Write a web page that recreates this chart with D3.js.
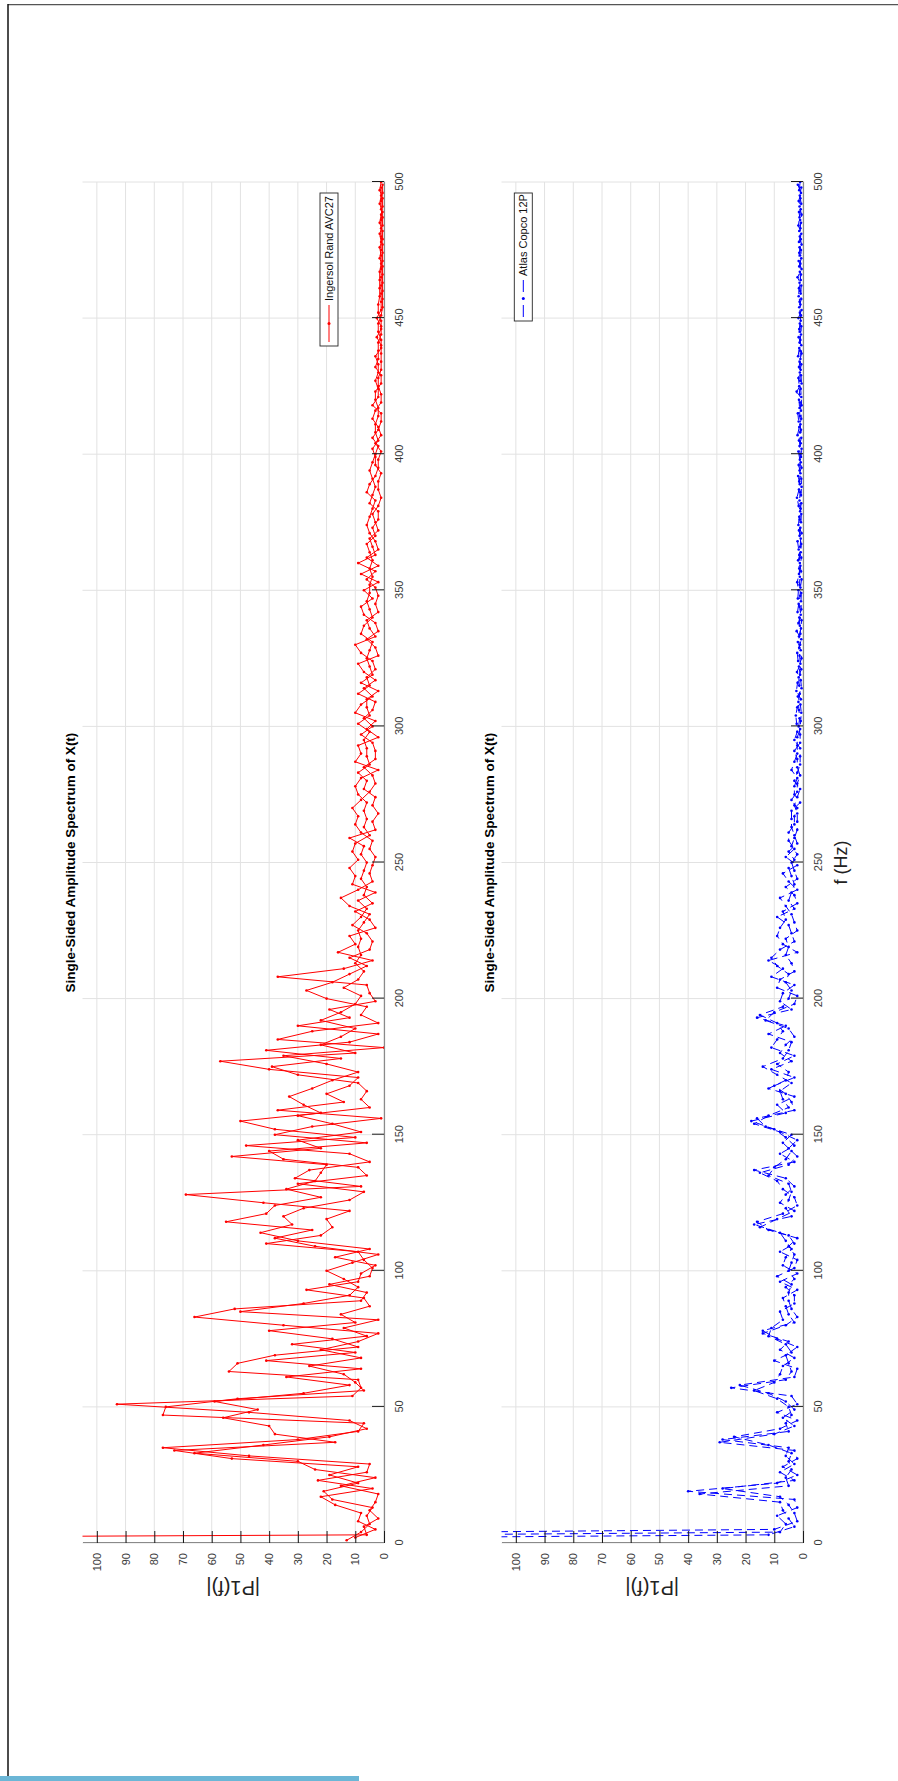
<!DOCTYPE html>
<html>
<head>
<meta charset="utf-8">
<script src="https://cdn.jsdelivr.net/npm/d3@7"></script>
<style>
  body { margin: 0; background: #fff; }
  svg { display: block; font-family: "Liberation Sans", Arial, Helvetica, sans-serif; }
</style>
</head>
<body>
<svg width="898" height="1781"></svg>
<script>
// Single-sided amplitude spectra, one value per 1 Hz bin (0..500 Hz)
const freqTicks = [0, 50, 100, 150, 200, 250, 300, 350, 400, 450, 500];
const ampTicks = [0, 10, 20, 30, 40, 50, 60, 70, 80, 90, 100];

const red000 = [600,13,10,6,8,3,7,5,9,2, 6,8,5,4,17,3,18,22,2,21, 4,15,9,23,3,19,6,24,9,5,
  30,53,47,66,73,77,42,17,30,19, 38,9,6,40,7,12,56,77,47,44, 76,93,59,51,11,28,7,8,12,10,
  9,34,14,54,8,26,51,41,8,38, 10,22,9,32,9,18,6,2,40,14, 35,10,2,66,15,50,52,5,28,8,
  7,12,6,27,9,19,9,14,5,8];
const red100 = [20,4,3,11,7,17,2,9,5,24, 41,30,38,22,43,25,18,32,55,20, 35,41,12,28,38,42,12,22,69,7,
  34,8,30,24,31,6,22,26,9,20, 5,35,53,12,40,22,48,6,30,10, 38,8,38,25,18,50,1,30,22,37,
  5,28,14,8,33,20,6,25,12,9, 18,9,30,9,40,39,20,57,15,35, 10,41,0,22,12,37,15,2,25,10,
  30,2,22,12,8,15,19,6,10,3];
const red200 = [20,8,5,27,14,6,18,9,37,12, 7,14,6,10,4,12,8,16,5,9, 10,4,8,12,6,9,3,11,7,5,
  8,5,10,6,12,4,9,15,7,3, 9,6,11,4,8,10,5,7,12,4, 6,9,3,8,11,5,7,10,4,12,
  5,8,3,7,10,4,6,9,2,7, 11,4,6,8,3,9,5,7,10,3, 6,8,4,9,2,7,5,10,3,6,
  8,3,6,9,4,7,2,8,5,6];
const red300 = [4,9,3,7,5,10,4,6,8,3, 6,4,9,2,7,5,8,3,6,4, 7,3,5,9,4,6,2,8,5,3,
  10,4,6,3,8,2,5,7,3,6, 4,7,2,5,8,3,6,4,2,5, 7,3,5,2,6,4,8,3,5,2,
  9,4,6,3,5,2,4,6,3,5, 3,5,2,4,6,3,2,5,4,2, 4,2,5,3,1,4,6,2,3,5,
  2,4,3,1,5,2,3,4,2,3];
const red400 = [3,1,4,2,3,2,4,1,3,2, 2,3,1,4,2,1,3,2,4,1, 3,2,1,3,2,2,1,3,2,1,
  2,1,3,2,1,2,3,1,2,1, 1,2,1,2.5,1,2,1,1,2,1, 2.5,1,2,1,0.5,2,1,0.5,1.5,1,
  0.5,1.5,1,0.5,1.5,1,0.5,1.5,1,0.5, 1,0.5,1.5,1,0.5,1,1.5,0.5,1,0.5,
  1,1.5,0.5,1,0.5,1.5,1,0.5,1,0.5, 1,0.5,1.5,1,0.5,1,0.5,1.5,1,0.5,1];

const blue000 = [400,380,350,12,8,10,3,6,2,5, 9,3,7,2,5,8,3,8,36,40, 28,5,9,3,6,2,8,4,7,3,
  5,2,6,4,3,5,12,29,28,24, 10,5,8,3,6,2,7,4,9,3, 5,2,6,9,4,12,17,25,22,10,
  6,3,8,4,2,7,5,10,3,6, 4,8,2,6,5,9,12,14,14,11, 6,3,7,2,5,8,4,6,3,5,
  7,3,5,2,6,4,8,3,9,2];
const blue100 = [5,3,7,4,2,6,3,8,4,5, 3,6,2,5,8,12,15,17,16,9, 4,7,3,6,2,8,5,3,6,4,
  7,3,5,9,6,12,15,17,10,5, 3,6,2,8,4,5,3,7,2,6, 4,8,10,13,17,18,16,12,6,3,
  5,9,4,7,3,6,8,12,10,4, 6,3,9,5,11,14,9,4,7,3, 8,5,11,6,4,9,3,12,7,5,
  6,9,13,16,15,10,4,7,3,8];
const blue200 = [5,2,7,4,9,3,6,8,11,5, 3,7,9,4,12,11,6,2,8,5, 7,3,6,9,4,2,8,5,3,6,
  9,4,7,3,6,2,5,8,3,4, 2,6,3,5,2,4,7,3,5,2, 4,3,6,2,5,3,4,2,5,3,
  3,5,2,4,3,2,4,3,2,4, 2,3,1,4,2,3,2,1,3,2, 3,2,1,2,4,2,1,3,2,1,
  2,3,1,2,1,3,2,1,2,1];
const blue300 = [1.5,2.2,0.8,1.2,2.5,0.6,1.4,2,0.9,1.6, 0.7,1.8,1.1,2.3,0.5,1.3,1.9,0.8,1.5,1,
  2.1,0.6,1.4,0.9,1.7,0.5,1.2,2,0.8,1.3, 1,1.8,0.6,1.4,0.9,2.2,0.7,1.1,1.6,0.5,
  1.3,0.8,1.9,0.6,1.2,1.5,0.7,1.8,1,0.6, 1.6,0.9,1.2,2,0.5,1.1,1.4,0.7,1.3,0.9,
  1.1,1.7,0.6,1.3,0.8,1.5,1,0.6,1.9,0.8, 1.2,0.5,1.4,0.9,1.6,0.7,1.1,1.3,0.6,1,
  0.8,1.5,0.6,1.2,2.1,0.7,1,1.4,0.5,1.1, 1.3,0.6,1.7,0.9,1.2,0.5,1.5,0.8,1.1,0.7];
const blue400 = [1,1.6,0.5,1.2,0.8,1.4,0.6,1.9,1,0.7, 1.3,0.9,1.5,0.6,1.1,1.8,0.7,1.2,0.5,1,
  1.4,0.6,1.2,2.2,0.8,1.3,0.5,1,1.6,0.7, 1.1,0.8,1.4,0.6,1.2,0.9,1.7,0.5,1,1.3,
  0.6,1.2,0.9,1.5,0.7,1,1.3,0.6,1.1,0.8, 1.6,0.7,1.1,0.5,1.3,0.9,1.2,0.6,1.5,0.8,
  1,1.4,0.6,1.2,0.8,1.9,0.7,1.1,0.5,1.3, 0.9,1.5,0.6,1,1.3,0.7,1.2,0.5,1.4,0.8,
  1.1,0.6,1.3,0.9,1.6,0.7,1,1.2,0.5,1.4, 0.8,1.2,0.6,1.5,0.9,1.1,0.7,1.3,0.6,1.8,1];

const redAmp = [].concat(red000, red100, red200, red300, red400);
const blueAmp = [].concat(blue000, blue100, blue200, blue300, blue400);
const freqHz = redAmp.map((d, i) => i); // 1 Hz bins

const svg = d3.select("svg");

// page frame
svg.append("line").attr("x1", 8).attr("y1", 4.7).attr("x2", 898).attr("y2", 4.7)
  .attr("stroke", "#555").attr("stroke-width", 1.3);
svg.append("line").attr("x1", 8).attr("y1", 4).attr("x2", 8).attr("y2", 1781)
  .attr("stroke", "#111").attr("stroke-width", 1.5);
svg.append("rect").attr("x", 0).attr("y", 1776).attr("width", 359).attr("height", 5)
  .attr("fill", "#6bb6d6");

// the whole figure is turned a quarter turn counter-clockwise
const plotW = 1361, plotH = 301.5, originY = 1543;

const panels = [
  { amp: redAmp, color: "#ff0000", dash: null, name: "Ingersol Rand AVC27",
    left: 82.5, lx: 1197, ly: 237.5, lw: 153, xlabel: false },
  { amp: blueAmp, color: "#0000ff", dash: "8,5", name: "Atlas Copco 12P",
    left: 501.5, lx: 1222, ly: 12.8, lw: 128, xlabel: true }
];

panels.forEach((p, k) => {
  const g = svg.append("g").attr("transform", `translate(${p.left},${originY}) rotate(-90)`);
  const x = d3.scaleLinear().domain([0, 500]).range([0, plotW]);
  const y = d3.scaleLinear().domain([0, 105]).range([plotH, 0]);

  // grid
  g.append("g").selectAll("line").data(freqTicks).join("line")
    .attr("x1", d => x(d)).attr("x2", d => x(d)).attr("y1", 0).attr("y2", plotH)
    .attr("stroke", "#e2e2e2").attr("stroke-width", 1);
  g.append("g").selectAll("line").data(ampTicks).join("line")
    .attr("x1", 0).attr("x2", plotW).attr("y1", d => y(d)).attr("y2", d => y(d))
    .attr("stroke", "#e2e2e2").attr("stroke-width", 1);

  // data, clipped to the axes box
  g.append("clipPath").attr("id", "clip" + k).append("rect")
    .attr("width", plotW).attr("height", plotH);
  const plot = g.append("g").attr("clip-path", `url(#clip${k})`);
  const line = d3.line().x(d => x(d[0])).y(d => y(d[1]));

  [0, 1, 2].forEach(t => {
    const pts = freqHz.map((f, i) => [f, p.amp[i]]).filter((d, i) => i % 3 === t);
    plot.append("path").datum(pts).attr("d", line)
      .attr("fill", "none").attr("stroke", p.color).attr("stroke-width", 1)
      .attr("stroke-dasharray", p.dash);
    plot.append("g").selectAll("circle").data(pts).join("circle")
      .attr("cx", d => x(d[0])).attr("cy", d => y(d[1])).attr("r", 1.3)
      .attr("fill", p.color);
  });

  // axes
  const ax = g.append("g").attr("transform", `translate(0,${plotH})`)
    .call(d3.axisBottom(x).tickValues(freqTicks).tickSizeInner(-12).tickSizeOuter(0).tickPadding(11));
  const ay = g.append("g")
    .call(d3.axisLeft(y).tickValues(ampTicks).tickSizeInner(-12).tickSizeOuter(0).tickPadding(10));
  [ax, ay].forEach(a => {
    a.select(".domain").attr("stroke", "#8a8a8a").attr("stroke-width", 1.2);
    a.selectAll(".tick line").attr("stroke", "#1a1a1a");
    a.selectAll(".tick text").attr("fill", "#3a3a3a").attr("font-size", 11)
      .attr("font-family", "Liberation Sans, Arial, sans-serif");
  });

  // title and labels
  g.append("text").attr("x", plotW / 2).attr("y", -8).attr("text-anchor", "middle")
    .attr("font-size", 13.5).attr("font-weight", "bold").attr("fill", "#000")
    .text("Single-Sided Amplitude Spectrum of X(t)");
  g.append("text").attr("transform", `translate(-38,${plotH / 2}) rotate(-90)`)
    .attr("text-anchor", "middle").attr("font-size", 20).attr("fill", "#222")
    .text("|P1(f)|");
  if (p.xlabel) {
    g.append("text").attr("x", plotW / 2).attr("y", plotH + 44).attr("text-anchor", "middle")
      .attr("font-size", 18).attr("fill", "#222").text("f (Hz)");
  }

  // legend
  const lg = g.append("g").attr("transform", `translate(${p.lx},${p.ly})`);
  lg.append("rect").attr("width", p.lw).attr("height", 18)
    .attr("fill", "#fff").attr("stroke", "#262626").attr("stroke-width", 0.9);
  lg.append("line").attr("x1", 4).attr("x2", 41).attr("y1", 9).attr("y2", 9)
    .attr("stroke", p.color).attr("stroke-width", 1)
    .attr("stroke-dasharray", p.dash ? "12,13" : null);
  lg.append("circle").attr("cx", 22.5).attr("cy", 9).attr("r", 1.5).attr("fill", p.color);
  lg.append("text").attr("x", 45).attr("y", 9).attr("dy", "0.35em")
    .attr("font-size", 11).attr("fill", "#111").text(p.name);
});
</script>
</body>
</html>
